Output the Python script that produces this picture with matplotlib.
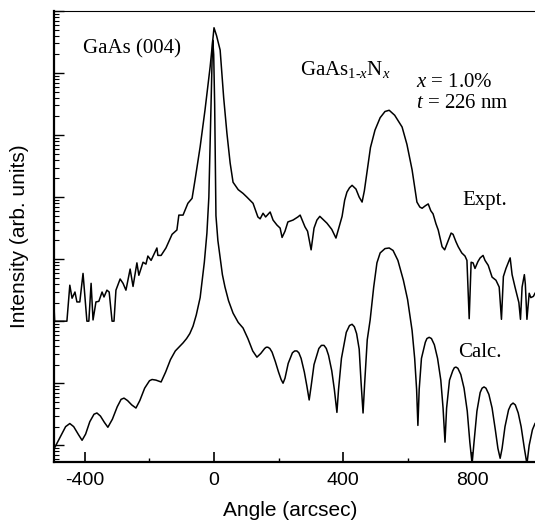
import numpy as np
import matplotlib
matplotlib.use("Agg")
import matplotlib.pyplot as plt
from matplotlib.ticker import LogLocator, NullFormatter, FixedLocator

plt.rcParams['axes.unicode_minus'] = False
plt.rcParams['mathtext.fontset'] = 'custom'
plt.rcParams['mathtext.rm'] = 'Liberation Serif'
plt.rcParams['mathtext.it'] = 'Liberation Serif:italic'

# ---- data (angle in arcsec, intensity as log10 of arb. units) ----
calc_angle = [-493, -475, -460, -447, -435, -420, -409, -398, -385, -372, -363, -352, -340, -329,
              -315, -300, -288, -279, -268, -255, -242, -230, -215, -200, -192, -180, -164, -150,
              -135, -120, -105, -96, -85, -75, -65, -55, -43, -30, -22, -16, -12, -9, -6, -4, -1,
              2, 4, 6, 12, 19, 26, 34, 45, 59, 75, 90, 105, 120, 133, 145, 157, 162, 167, 173, 180, 190,
              200, 208, 214, 220, 230, 243, 250, 257, 263, 270, 280, 288, 295, 301, 310, 325, 333, 341, 348, 355, 365,
              373, 381, 386, 395, 410, 420, 428, 435, 442, 450, 456, 462, 467, 475, 484, 495, 505, 515, 530,
              543, 555, 570, 587, 600, 614, 622, 628, 632, 636, 643, 655, 660, 667, 674, 683, 693, 703, 710,
              716, 721, 730, 740, 745, 750, 756, 765, 775, 785, 793, 800, 806, 815, 825, 831, 837, 843, 852, 862, 872,
              880, 887, 893, 902, 913, 920, 927, 934, 943, 952, 962, 970, 977, 987, 995]
calc_log = [-0.03, 0.15, 0.30, 0.35, 0.30, 0.17, 0.08, 0.18, 0.38, 0.50, 0.52, 0.47, 0.37, 0.29,
            0.42, 0.62, 0.74, 0.76, 0.72, 0.65, 0.60, 0.72, 0.92, 1.04, 1.06, 1.05, 1.02, 1.18,
            1.38, 1.52, 1.60, 1.65, 1.72, 1.80, 1.92, 2.10, 2.38, 2.95, 3.42, 4.00, 4.90, 5.60, 6.20, 6.53, 6.30,
            5.50, 4.60, 3.70, 3.30, 3.03, 2.75, 2.55, 2.33, 2.13, 1.98, 1.89, 1.72, 1.52, 1.42, 1.48, 1.56, 1.58, 1.58, 1.56, 1.50, 1.35,
            1.18, 1.06, 1.00, 1.08, 1.32, 1.49, 1.52, 1.52, 1.49, 1.40, 1.18, 0.95, 0.73, 0.95, 1.30, 1.56, 1.61, 1.61, 1.56, 1.45, 1.20,
            0.90, 0.53, 0.90, 1.40, 1.82, 1.93, 1.95, 1.91, 1.80, 1.55, 1.00, 0.52, 1.00, 1.70, 2.02, 2.55, 2.94, 3.10, 3.17,
            3.18, 3.14, 2.98, 2.66, 2.35, 1.85, 1.40, 0.90, 0.32, 0.90, 1.40, 1.66, 1.72, 1.74, 1.72, 1.62, 1.40, 1.05, 0.60,
            0.05, 0.60, 1.05, 1.20, 1.25, 1.26, 1.24, 1.14, 0.92, 0.55, 0.05, -0.30, 0.05, 0.55, 0.85, 0.92, 0.94, 0.92, 0.82, 0.60, 0.25,
            -0.05, -0.21, -0.05, 0.30, 0.57, 0.65, 0.68, 0.65, 0.52, 0.30, -0.05, -0.30, 0.00, 0.25, 0.35]

expt_angle = [-496, -494, -456, -447, -440, -431, -425, -416, -406, -394, -388, -381, -375, -366,
              -357, -347, -341, -332, -325, -316, -310, -304, -291, -282, -273, -260, -251, -239,
              -233, -220, -211, -205, -195, -177, -174, -164, -149, -130, -115, -109, -96, -81, -68,
              -59, -43, -28, -12, 0, 8, 19, 30, 40, 50, 59, 75, 90, 102, 121, 136, 143, 152, 160,
              174, 183, 195, 205, 211, 220, 229, 245, 260, 267, 282, 290, 301, 310, 319, 328, 350,
              365, 378, 397, 405, 412, 420, 428, 440, 450, 459, 466, 474, 485, 499, 515, 530, 543,
              560, 583, 598, 614, 629, 638, 645, 655, 664, 672, 679, 688, 695, 707, 715, 726, 735,
              741, 750, 757, 768, 778, 784, 791, 797, 803, 809, 818, 825, 834, 840, 850, 862, 874,
              884, 891, 897, 905, 918, 924, 933, 945, 950, 955, 962, 965, 970, 977, 982, 990, 995]
expt_log = [2.25, 2.00, 2.00, 2.58, 2.37, 2.47, 2.31, 2.31, 2.77, 2.00, 2.00, 2.61, 2.02, 2.31,
            2.32, 2.47, 2.39, 2.50, 2.47, 2.00, 2.00, 2.50, 2.68, 2.61, 2.50, 2.84, 2.56, 2.94,
            2.74, 2.95, 2.92, 3.05, 2.98, 3.18, 3.06, 3.06, 3.18, 3.40, 3.47, 3.71, 3.71, 3.90, 3.98,
            4.27, 4.81, 5.40, 6.10, 6.73, 6.60, 6.37, 5.60, 5.03, 4.55, 4.24, 4.12, 4.06, 4.00, 3.90, 3.68, 3.65, 3.74, 3.68,
            3.76, 3.63, 3.55, 3.50, 3.35, 3.45, 3.60, 3.63, 3.68, 3.71, 3.52, 3.45, 3.15, 3.50, 3.63, 3.69, 3.58,
            3.48, 3.34, 3.69, 3.95, 4.08, 4.15, 4.19, 4.13, 4.00, 3.92, 4.10, 4.39, 4.80, 5.08, 5.28, 5.38, 5.40,
            5.32, 5.13, 4.85, 4.44, 3.92, 3.84, 3.82, 3.86, 3.89, 3.78, 3.73, 3.57, 3.47, 3.20, 3.15, 3.30, 3.42,
            3.40, 3.28, 3.20, 3.10, 3.05, 2.98, 2.04, 2.95, 2.94, 2.85, 2.96, 3.02, 3.06, 2.98, 2.90, 2.71, 2.66,
            2.55, 2.03, 2.72, 2.85, 3.02, 2.75, 2.55, 2.30, 2.03, 2.55, 2.75, 2.60, 2.03, 2.45, 2.38, 2.40, 2.45]

x_ticks = [-400, 0, 400, 800]
x_minor = [-200, 200, 600]

W, H = 535, 527
fig = plt.figure(figsize=(W / 100, H / 100), dpi=100)
ax = fig.add_axes([54 / W, 1 - 462 / H, (W - 54) / W, (462 - 11) / H])

ax.plot(expt_angle, 10 ** np.array(expt_log), color='black', lw=1.1)
ax.plot(calc_angle, 10 ** np.array(calc_log), color='black', lw=1.1)

ax.set_yscale('log')
ax.set_xlim(-496, 995)
ax.set_ylim(10 ** -0.27, 10 ** 7.0)

ax.xaxis.set_major_locator(FixedLocator(x_ticks))
ax.xaxis.set_minor_locator(FixedLocator(x_minor))
ax.set_xticklabels([str(v) for v in x_ticks], fontfamily='Liberation Sans', fontsize=14)
ax.yaxis.set_major_locator(LogLocator(base=10, numticks=20))
ax.yaxis.set_minor_locator(LogLocator(base=10, subs=np.arange(2, 10), numticks=20))
ax.yaxis.set_major_formatter(NullFormatter())
ax.yaxis.set_minor_formatter(NullFormatter())

ax.tick_params(axis='x', which='major', direction='in', length=7, width=1.2, pad=7,
               top=False, bottom=True)
ax.tick_params(axis='x', which='minor', direction='in', length=3, width=1.0, top=False)
ax.tick_params(axis='y', which='major', direction='in', length=7, width=1.0, right=False)
ax.tick_params(axis='y', which='minor', direction='in', length=3.5, width=0.8, right=False)

ax.spines['right'].set_visible(False)
ax.spines['left'].set_linewidth(1.6)
ax.spines['bottom'].set_linewidth(1.6)
ax.spines['top'].set_linewidth(0.8)

fig.text(290 / W, 1 - 510 / H, 'Angle (arcsec)', ha='center', va='center',
         fontfamily='Liberation Sans', fontsize=15)
fig.text(20 / W, 1 - 236 / H, 'Intensity (arb. units)', ha='center', va='center',
         rotation=90, fontfamily='Liberation Sans', fontsize=15)

serif = dict(fontfamily='Liberation Serif', fontsize=15, va='baseline', ha='left')
fig.text(83 / W, 1 - 53 / H, 'GaAs (004)', **serif)
fig.text(300 / W, 1 - 75 / H, r'GaAs$_{1\text{-}x}$N$_{x}$', **serif)
fig.text(416 / W, 1 - 87 / H, r'$x$ = 1.0%', **serif)
fig.text(416 / W, 1 - 108 / H, r'$t$ = 226 nm', **serif)
fig.text(462 / W, 1 - 205 / H, 'Expt.', **serif)
fig.text(458 / W, 1 - 357 / H, 'Calc.', **serif)

fig.savefig('out.png', dpi=100)
